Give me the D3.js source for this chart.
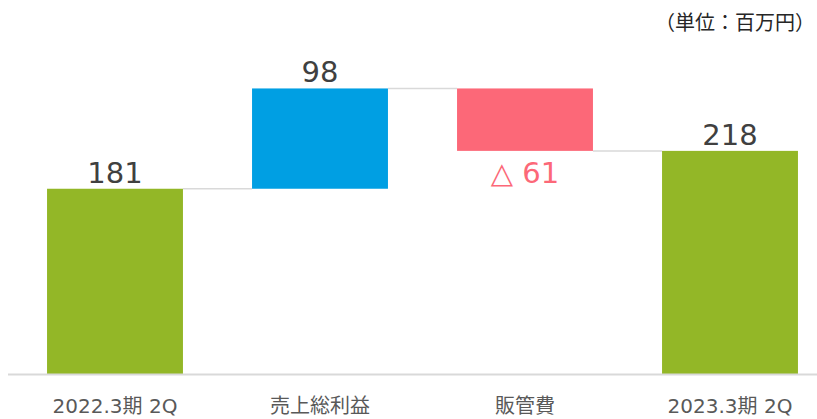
<!DOCTYPE html>
<html>
<head>
<meta charset="utf-8">
<style>
  body { margin: 0; background: #fff; }
  svg text { font-family: "DejaVu Sans", "Noto Sans CJK JP", sans-serif; }
</style>
</head>
<body>
<div id="chart"></div>
<script src="https://d3js.org/d3.v7.min.js"></script>
<script>
// waterfall data
var categories = ["2022.3期 2Q", "売上総利益", "販管費", "2023.3期 2Q"];
var values = [181, 98, -61, 218];
var kinds = ["total", "delta", "delta", "total"];
var labels = ["181", "98", "△ 61", "218"];

var width = 817, height = 419;
var baseY = 374;

var svg = d3.select("#chart").append("svg")
    .attr("width", width)
    .attr("height", height);

var x = d3.scaleBand()
    .domain(categories)
    .range([12.5, 832.5])
    .paddingInner(0.337)
    .paddingOuter(0.1685);

var y = d3.scaleLinear()
    .domain([0, 300])
    .range([baseY, baseY - 300 * 1.0235]);

// build running start / end
var running = 0;
var data = categories.map(function(c, i) {
  var d = {cat: c, value: values[i], kind: kinds[i], label: labels[i]};
  if (d.kind === "total") {
    d.start = 0; d.end = d.value; running = d.value;
  } else {
    d.start = running; d.end = running + d.value; running = d.end;
  }
  d.top = Math.max(d.start, d.end);
  d.bottom = Math.min(d.start, d.end);
  return d;
});

function colorOf(d) {
  if (d.kind === "total") return "#93b727";
  return d.value >= 0 ? "#009fe3" : "#fc6878";
}

// connectors
for (var i = 0; i < data.length - 1; i++) {
  svg.append("line")
      .attr("x1", x(data[i].cat) + x.bandwidth())
      .attr("x2", x(data[i + 1].cat))
      .attr("y1", y(data[i].end))
      .attr("y2", y(data[i].end))
      .attr("stroke", "#d9d9d9")
      .attr("stroke-width", 1.5);
}

// bars
svg.selectAll(".bar")
    .data(data)
  .enter().append("rect")
    .attr("class", "bar")
    .attr("x", function(d) { return x(d.cat); })
    .attr("width", x.bandwidth())
    .attr("y", function(d) { return y(d.top); })
    .attr("height", function(d) { return y(d.bottom) - y(d.top); })
    .attr("fill", colorOf);

// axis line
svg.append("line")
    .attr("x1", 8).attr("x2", width)
    .attr("y1", baseY + 0.5).attr("y2", baseY + 0.5)
    .attr("stroke", "#d9d9d9")
    .attr("stroke-width", 2);

// value labels
svg.selectAll(".val")
    .data(data)
  .enter().append("text")
    .attr("class", "val")
    .attr("text-anchor", "middle")
    .attr("x", function(d) { return x(d.cat) + x.bandwidth() / 2; })
    .attr("y", function(d) {
      return d.value < 0 ? y(d.bottom) + 32 : y(d.top) - 6;
    })
    .attr("font-size", "29px")
    .attr("fill", function(d) { return d.value < 0 ? "#fc6878" : "#404040"; })
    .text(function(d) { return d.label; });

// category labels
svg.selectAll(".cat")
    .data(data)
  .enter().append("text")
    .attr("class", "cat")
    .attr("text-anchor", "middle")
    .attr("x", function(d) { return x(d.cat) + x.bandwidth() / 2; })
    .attr("y", 413)
    .attr("font-size", "20px")
    .attr("fill", "#595959")
    .text(function(d) { return d.cat; });

// unit note
svg.append("text")
    .attr("text-anchor", "end")
    .attr("x", 815)
    .attr("y", 30)
    .attr("font-size", "20px")
    .attr("fill", "#262626")
    .text("（単位：百万円）");
</script>
</body>
</html>
